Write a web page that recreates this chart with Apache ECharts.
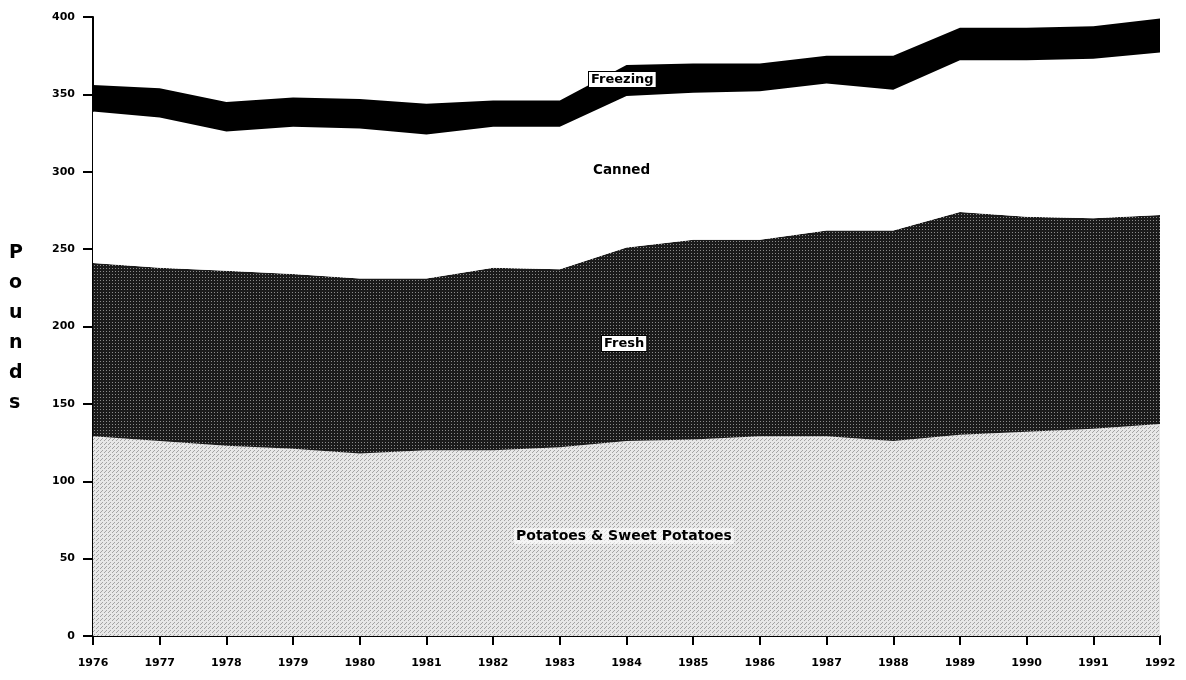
<!DOCTYPE html>
<html><head><meta charset="utf-8">
<script src="https://cdn.jsdelivr.net/npm/echarts@6/dist/echarts.min.js"></script>
<style>html,body{margin:0;padding:0;background:#fff}#c{width:1186px;height:680px}</style>
</head><body><div id="c"></div>
<script>
const years = ['1976','1977','1978','1979','1980','1981','1982','1983','1984','1985','1986','1987','1988','1989','1990','1991','1992'];
const potatoes = [129,126,123,121,118,120,120,122,126,127,129,129,126,130,132,134,137];
const fresh    = [112,112,113,113,113,111,118,115,125,129,127,133,136,144,139,136,135];
const canned   = [98,97,90,95,97,93,91,92,98,95,96,95,91,98,101,103,105];
const freezing = [17,19,19,19,19,20,17,17,20,19,18,18,22,21,21,21,22];
const yTicks = [0,50,100,150,200,250,300,350,400];

function pattern(bg, fg, size, dots) {
  const c = document.createElement('canvas');
  c.width = size; c.height = size;
  const g = c.getContext('2d');
  g.fillStyle = bg; g.fillRect(0,0,size,size);
  g.fillStyle = fg;
  dots.forEach(d => g.fillRect(d[0], d[1], 1, 1));
  return c;
}
const freshPat = pattern('#1a1a1a', '#8a8a8a', 3, [[1,1]]);
const potPat = pattern('#e8e8e8', '#a4a4a4', 4, [[0,0],[2,2],[1,3]]);

const chart = echarts.init(document.getElementById('c'));
const font = '"DejaVu Sans", "Liberation Sans", Arial, sans-serif';
function mk(name, data, color) {
  return { name, type:'line', stack:'t', data, symbol:'none', lineStyle:{width:0},
    areaStyle:{color, opacity:1}, itemStyle:{color:'#000'}, z:2 };
}
chart.setOption({
  animation:false,
  grid:{left:93, right:26, top:17, bottom:44},
  xAxis:{type:'category', data:years, boundaryGap:false,
    axisLine:{lineStyle:{color:'#000', width:2}},
    axisTick:{alignWithLabel:true, length:9, lineStyle:{color:'#000', width:2}},
    axisLabel:{color:'#000', fontFamily:font, fontWeight:'bold', fontSize:11, margin:22}},
  yAxis:{type:'value', min:0, max:400, interval:50,
    axisLine:{show:true, lineStyle:{color:'#000', width:2}},
    axisTick:{show:true, length:10, lineStyle:{color:'#000', width:2}},
    splitLine:{show:false},
    axisLabel:{color:'#000', fontFamily:font, fontWeight:'bold', fontSize:11, margin:18,
      formatter: v => yTicks.includes(v) ? String(v) : ''}},
  series:[
    mk('Potatoes & Sweet Potatoes', potatoes, {image:potPat, repeat:'repeat'}),
    mk('Fresh', fresh, {image:freshPat, repeat:'repeat'}),
    mk('Canned', canned, '#ffffff'),
    mk('Freezing', freezing, '#000000')
  ],
  graphic:[
    {type:'text', left:588, top:71, z:10, style:{text:'Freezing', fill:'#000', font:'bold 13px '+font,
      backgroundColor:'#fff', borderColor:'#000', borderWidth:1, padding:[1,2]}},
    {type:'text', left:593, top:163, z:10, style:{text:'Canned', fill:'#000', font:'bold 13.5px '+font}},
    {type:'text', left:601, top:335, z:10, style:{text:'Fresh', fill:'#000', font:'bold 13px '+font,
      backgroundColor:'#fff', borderColor:'#000', borderWidth:1, padding:[1,2]}},
    {type:'text', left:514, top:528, z:10, style:{text:'Potatoes & Sweet Potatoes', fill:'#000', font:'bold 14px '+font,
      backgroundColor:'rgba(255,255,255,0.6)', padding:[1,2]}},
    {type:'text', left:9, top:238, z:10, style:{text:'P\no\nu\nn\nd\ns', fill:'#000', font:'bold 19px '+font,
      lineHeight:30, align:'center', width:20}}
  ]
});
</script></body></html>
